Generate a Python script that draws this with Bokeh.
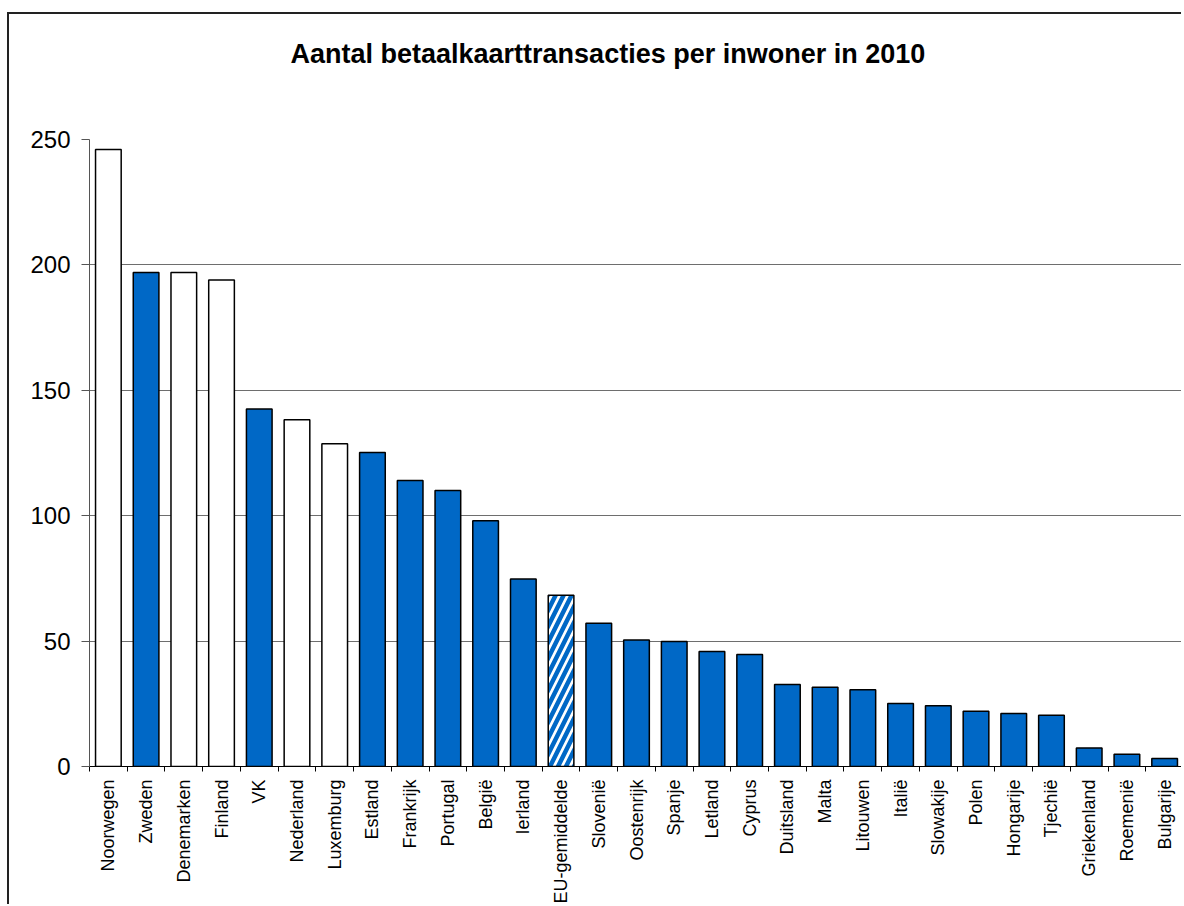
import math
from bokeh.plotting import figure
from bokeh.models import ColumnDataSource, Range1d, LinearAxis, FixedTicker, Grid, Title
from bokeh.embed import file_html
from bokeh.resources import INLINE

title_text = "Aantal betaalkaarttransacties per inwoner in 2010"

countries = ["Noorwegen", "Zweden", "Denemarken", "Finland", "VK", "Nederland",
             "Luxemburg", "Estland", "Frankrijk", "Portugal", "België", "Ierland",
             "EU-gemiddelde", "Slovenië", "Oostenrijk", "Spanje", "Letland", "Cyprus",
             "Duitsland", "Malta", "Litouwen", "Italië", "Slowakije", "Polen",
             "Hongarije", "Tjechië", "Griekenland", "Roemenië", "Bulgarije"]
values = [246, 197, 197, 194, 142.5, 138.3, 128.7, 125.2, 114, 110, 98, 74.8,
          68.3, 57.1, 50.4, 49.8, 45.9, 44.7, 32.7, 31.6, 30.6, 25.1, 24.2, 22,
          21.1, 20.4, 7.4, 4.9, 3.2]
# group: 0 = white, 1 = blue, 2 = hatched (EU average)
groups = [0, 1, 0, 0, 1, 0, 0, 1, 1, 1, 1, 1, 2, 1, 1, 1, 1, 1, 1, 1, 1, 1, 1, 1,
          1, 1, 1, 1, 1]
y_ticks = [0, 50, 100, 150, 200, 250]

BLUE = "#0068C6"
fill_map = {0: "white", 1: BLUE, 2: "white"}
hatch_map = {0: " ", 1: " ", 2: "/"}

W, H = 1172, 890
n = len(countries)
src = ColumnDataSource(dict(
    x=list(range(n)),
    top=values,
    fill=[fill_map[g] for g in groups],
    hatch=[hatch_map[g] for g in groups],
))

p = figure(width=W, height=H,
           x_range=Range1d(-0.5, n - 0.5), y_range=Range1d(0, 250),
           output_backend="svg", toolbar_location=None,
           x_axis_type=None, y_axis_type=None,
           min_border_left=80, min_border_right=0,
           min_border_top=125, min_border_bottom=138)
p.outline_line_color = None
p.background_fill_color = "white"
p.border_fill_color = "white"
# outer chart border (runs off the page at right and bottom like the source)
p.styles = {"margin-left": "7px", "margin-top": "12px",
            "box-sizing": "content-box", "overflow": "visible",
            "vertical-align": "top",
            "border-left": "2px solid #222222", "border-top": "2px solid #222222"}

# spacer between title and plot area (closest to the frame)
p.add_layout(Title(text=" ", text_font_size="1px", standoff=63), "above")

p.title = Title(text=title_text, align="left", offset=201, standoff=10,
                text_font="Liberation Sans", text_font_size="27px",
                text_font_style="bold", text_color="black")

# grid
p.add_layout(Grid(dimension=1, ticker=FixedTicker(ticks=y_ticks[1:-1]),
                  grid_line_color="#6e6e6e", grid_line_width=1))
p.add_layout(Grid(dimension=1, ticker=FixedTicker(ticks=y_ticks[-1:]),
                  grid_line_color="#e4e4e4", grid_line_width=1))

p.vbar(x="x", top="top", width=0.68, bottom=0, source=src,
       fill_color="fill", line_color="black", line_width=1.5,
       hatch_pattern="hatch", hatch_color=BLUE, hatch_scale=16, hatch_weight=4.5)

# x axis: labels at categories, ticks between categories
xaxis = LinearAxis(ticker=FixedTicker(ticks=list(range(n)),
                                      minor_ticks=[i - 0.5 for i in range(n + 1)]))
xaxis.major_label_overrides = {i: c for i, c in enumerate(countries)}
xaxis.major_label_orientation = math.pi / 2
xaxis.major_tick_line_color = None
xaxis.major_tick_out = 0
xaxis.major_tick_in = 0
xaxis.minor_tick_out = 5
xaxis.minor_tick_in = 0
xaxis.minor_tick_line_color = "black"
xaxis.axis_line_color = "black"
xaxis.axis_line_width = 1
xaxis.major_label_standoff = 8
xaxis.major_label_text_font = "Liberation Sans"
xaxis.major_label_text_font_size = "18px"
xaxis.major_label_text_color = "black"
p.add_layout(xaxis, "below")

yaxis = LinearAxis(ticker=FixedTicker(ticks=y_ticks))
yaxis.major_tick_out = 8
yaxis.major_tick_in = 0
yaxis.minor_tick_line_color = None
yaxis.major_tick_line_color = "#555555"
yaxis.axis_line_color = "#555555"
yaxis.major_label_standoff = 11
yaxis.major_label_text_font = "Liberation Sans"
yaxis.major_label_text_font_size = "24px"
yaxis.major_label_text_color = "black"
p.add_layout(yaxis, "left")

open("out.html", "w").write(file_html(p, INLINE))
